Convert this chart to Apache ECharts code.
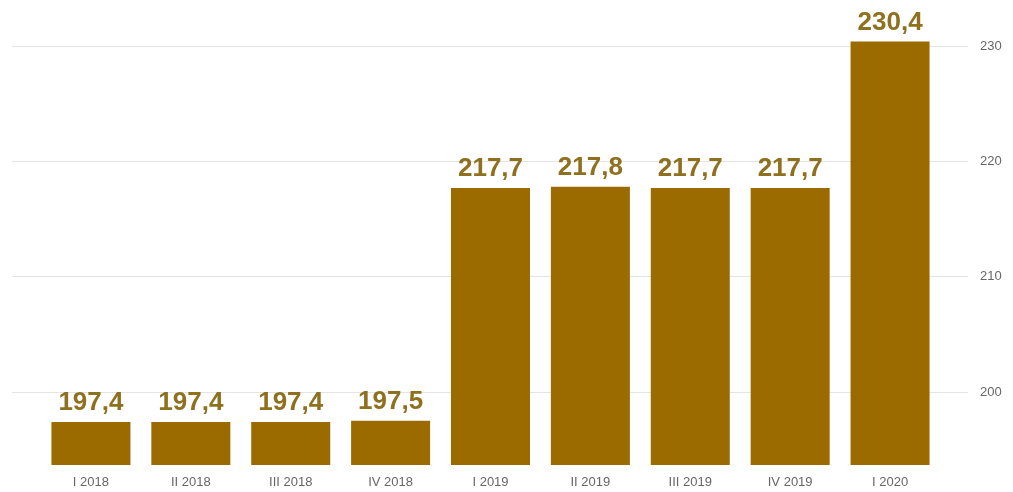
<!DOCTYPE html>
<html>
<head>
<meta charset="utf-8">
<script src="https://cdn.jsdelivr.net/npm/echarts@6/dist/echarts.min.js"></script>
<style>
html,body{margin:0;padding:0;background:#fff;}
#chart{width:1013px;height:492px;}
</style>
</head>
<body>
<div id="chart"></div>
<script>
const categories = ['I 2018','II 2018','III 2018','IV 2018','I 2019','II 2019','III 2019','IV 2019','I 2020'];
const values = [197.4, 197.4, 197.4, 197.5, 217.7, 217.8, 217.7, 217.7, 230.4];
const yTicks = [200, 210, 220, 230];

const Y_MIN = 193.67, Y_MAX = 232;

const chart = echarts.init(document.getElementById('chart'), null, {renderer: 'canvas'});
chart.setOption({
  animation: false,
  backgroundColor: '#fff',
  grid: [
    {left: 12, right: 45, top: 23, bottom: 27},
    {left: 41, right: 73, top: 23, bottom: 27}
  ],
  xAxis: [
    {type: 'category', gridIndex: 0, data: categories, show: false},
    {type: 'category', gridIndex: 1, data: categories,
     axisLine: {show: false}, axisTick: {show: false},
     axisLabel: {color: '#666', fontSize: 13, fontFamily: 'Liberation Sans, Arial, sans-serif', margin: 11}}
  ],
  yAxis: [
    {type: 'value', gridIndex: 0, position: 'right', min: Y_MIN, max: Y_MAX, splitNumber: 5,
     axisLine: {show: false}, axisTick: {show: false},
     splitLine: {show: true, showMinLine: false, showMaxLine: false, lineStyle: {color: '#e4e4e4', width: 1}},
     axisLabel: {color: '#666', fontSize: 13, fontFamily: 'Liberation Sans, Arial, sans-serif', margin: 12,
       showMinLabel: false, showMaxLabel: false,
       formatter: v => yTicks.includes(v) ? String(v) : ''}
    },
    {type: 'value', gridIndex: 1, min: Y_MIN, max: Y_MAX, show: false, splitLine: {show: false}}
  ],
  series: [
    {type: 'bar', xAxisIndex: 1, yAxisIndex: 1, data: values, barWidth: 79,
     itemStyle: {color: '#9b6b00'},
     label: {show: true, position: 'top', distance: 6, color: '#8f701e', fontSize: 26, fontWeight: 'bold',
       fontFamily: 'Liberation Sans, Arial, sans-serif',
       formatter: p => p.value.toFixed(1).replace('.', ',')}}
  ]
});
</script>
</body>
</html>
